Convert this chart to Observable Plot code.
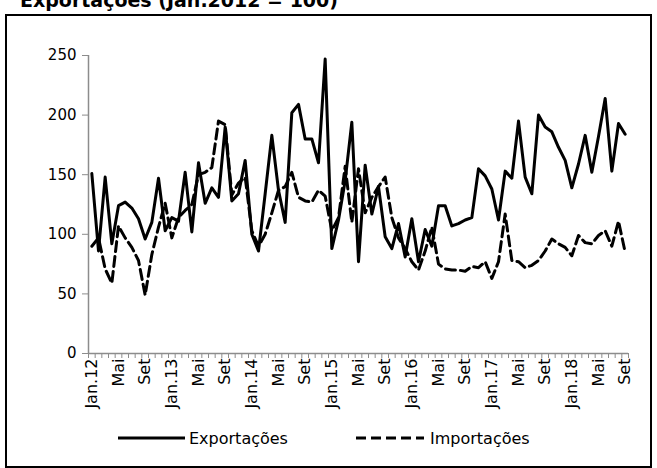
<!DOCTYPE html>
<html><head><meta charset="utf-8">
<script src="https://cdn.jsdelivr.net/npm/d3@7"></script>
<script src="https://cdn.jsdelivr.net/npm/@observablehq/plot@0.6"></script>
<style>
body{margin:0;background:#fff;}
#wrap{position:relative;width:657px;height:468px;overflow:hidden;font-family:"DejaVu Sans",Verdana,sans-serif;}
#titleSvg{position:absolute;left:0;top:0;}
#frame{position:absolute;left:5px;top:14px;width:643px;height:450px;border:2px solid #000;}
#chart{position:absolute;left:0;top:0;}
#legend{position:absolute;left:0;top:0;}
</style></head>
<body>
<div id="wrap">
  <svg id="titleSvg" width="657" height="20"><text x="20" y="7" font-family="DejaVu Sans" font-weight="bold" font-size="19" fill="#000">Exportações (Jan.2012 = 100)</text></svg>
  <div id="frame"></div>
  <div id="chart"></div>
  <svg id="legend" width="657" height="468" style="pointer-events:none">
    <line x1="118" x2="185" y1="438" y2="438" stroke="#000" stroke-width="3"/>
    <text x="189" y="444" font-family="DejaVu Sans" font-size="16" fill="#000">Exportações</text>
    <line x1="356" x2="424" y1="438" y2="438" stroke="#000" stroke-width="3" stroke-dasharray="10,5"/>
    <text x="430" y="444" font-family="DejaVu Sans" font-size="16" fill="#000">Importações</text>
  </svg>
</div>
<script>
const exportacoes = [151, 86, 148, 92, 124, 127, 122, 113, 96, 110,
  147, 103, 114, 111, 152, 102, 160, 126, 139, 131,
  190, 128, 134, 162, 100, 86, 134, 183, 137, 110,
  202, 209, 180, 180, 160, 247, 88, 112, 145, 194,
  77, 158, 117, 140, 98, 88, 109, 81, 113, 77,
  104, 90, 124, 124, 107, 109, 112, 114, 155, 149,
  138, 112, 153, 147, 195, 148, 134, 200, 190, 186,
  173, 162, 139, 159, 183, 152, 182, 214, 153, 193,
  184];
const importacoes = [90, 97, 71, 59, 107, 97, 89, 78, 49, 83,
  106, 126, 97, 114, 120, 125, 150, 152, 156, 195,
  192, 133, 143, 148, 103, 90, 100, 118, 137, 140,
  152, 131, 128, 127, 137, 132, 103, 114, 157, 110,
  155, 118, 131, 140, 148, 114, 97, 88, 77, 70,
  86, 106, 75, 71, 70, 70, 69, 73, 72, 77,
  63, 77, 117, 78, 77, 72, 74, 78, 86, 96,
  92, 89, 82, 99, 93, 92, 99, 103, 90, 111,
  85];
const tickLabels = ["Jan.12","Mai","Set","Jan.13","Mai","Set","Jan.14","Mai","Set","Jan.15","Mai","Set","Jan.16","Mai","Set","Jan.17","Mai","Set","Jan.18","Mai","Set"];
const yTicks = [0, 50, 100, 150, 200, 250];

const data = exportacoes.map((v, i) => ({i, exp: v, imp: importacoes[i]}));
const n = exportacoes.length;
const labelIdx = tickLabels.map((_, k) => k * 4);
const boundaries = d3.range(n + 1).map(k => k - 0.5);

const chart = Plot.plot({
  width: 657, height: 468,
  marginLeft: 88, marginRight: 29, marginTop: 55, marginBottom: 115,
  x: {type: "linear", domain: [-0.5, n - 0.5], axis: null},
  y: {domain: [0, 250], axis: null},
  style: {fontFamily: "DejaVu Sans", fontSize: "15px", color: "#000", background: "transparent"},
  marks: [
    Plot.axisX({ticks: boundaries, tickSize: 5, tickFormat: () => "", stroke: "#8c8c8c", label: null}),
    Plot.axisX({ticks: labelIdx, tickSize: 0, tickPadding: 5, tickRotate: -90, fontSize: 16, label: null,
      tickFormat: d => tickLabels[Math.round(d / 4)]}),
    Plot.axisY({ticks: yTicks, tickSize: 6, tickPadding: 6, fontSize: 15, stroke: "#8c8c8c", label: null}),
    Plot.ruleY([0], {stroke: "#8c8c8c", strokeWidth: 1.5}),
    Plot.ruleX([-0.5], {stroke: "#8c8c8c", strokeWidth: 1.5}),
    Plot.line(data, {x: "i", y: "imp", stroke: "#000", strokeWidth: 3, strokeDasharray: "10,5"}),
    Plot.line(data, {x: "i", y: "exp", stroke: "#000", strokeWidth: 3})
  ]
});
document.getElementById("chart").appendChild(chart);
</script>
</body></html>
